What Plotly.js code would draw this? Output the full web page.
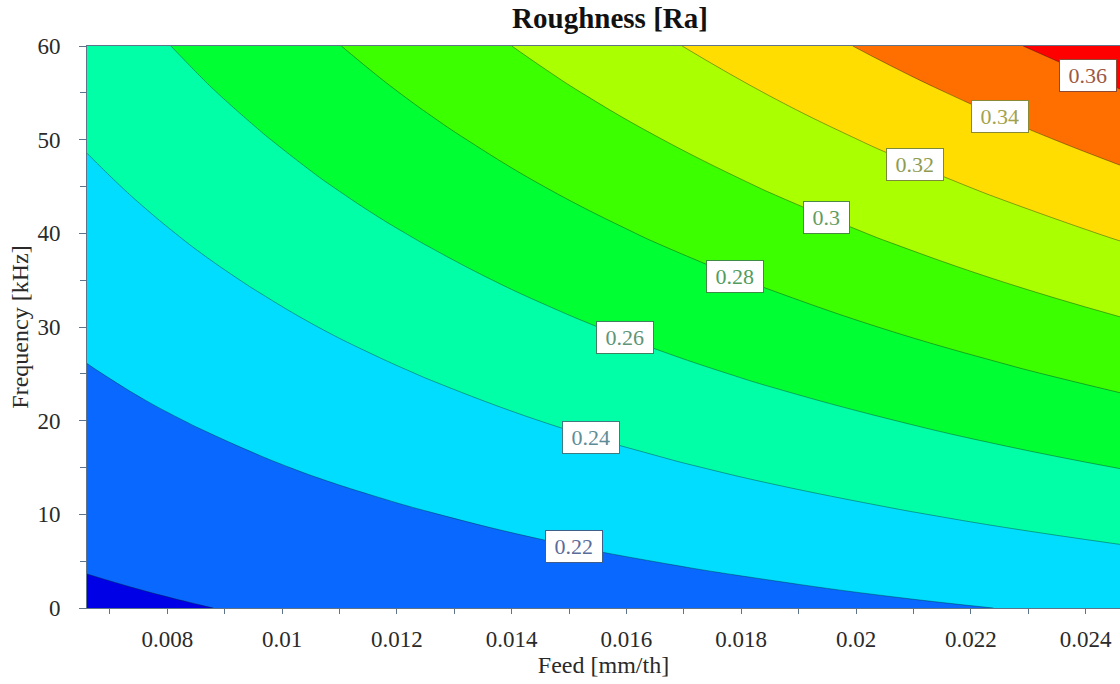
<!DOCTYPE html>
<html><head><meta charset="utf-8">
<script src="https://cdn.plot.ly/plotly-3.0.1.min.js"></script>
<style>html,body{margin:0;padding:0;background:#fff}#chart{width:1120px;height:684px}</style>
</head><body><div id="chart"></div>
<script>
// Feed [mm/th] grid (columns)
const feed = [0.0066, 0.0076, 0.0086, 0.0096, 0.0106, 0.0116, 0.0126, 0.0146, 0.0166, 0.0186, 0.0206, 0.0226, 0.0246];
// Frequency [kHz] grid (rows)
const frequency = [0, 5, 10, 15, 20, 25, 30, 35, 40, 45, 50, 55, 60];
// Roughness Ra estimated from the contour picture, one row per frequency
const roughness = [
  [0.1968,0.1982,0.1997,0.2012,0.2026,0.2041,0.2056,0.2085,0.2115,0.2144,0.2174,0.2203,0.2233],
  [0.2012,0.2031,0.2050,0.2069,0.2088,0.2108,0.2127,0.2165,0.2203,0.2241,0.2280,0.2318,0.2356],
  [0.2057,0.2080,0.2104,0.2127,0.2151,0.2174,0.2197,0.2244,0.2291,0.2338,0.2385,0.2432,0.2479],
  [0.2101,0.2129,0.2157,0.2185,0.2213,0.2240,0.2268,0.2324,0.2380,0.2436,0.2491,0.2547,0.2603],
  [0.2146,0.2178,0.2210,0.2242,0.2275,0.2307,0.2339,0.2404,0.2468,0.2533,0.2597,0.2662,0.2726],
  [0.2190,0.2227,0.2263,0.2300,0.2337,0.2373,0.2410,0.2483,0.2557,0.2630,0.2703,0.2776,0.2850],
  [0.2235,0.2276,0.2317,0.2358,0.2399,0.2440,0.2481,0.2563,0.2645,0.2727,0.2809,0.2891,0.2973],
  [0.2279,0.2324,0.2370,0.2415,0.2461,0.2506,0.2552,0.2642,0.2733,0.2824,0.2915,0.3006,0.3097],
  [0.2324,0.2373,0.2423,0.2473,0.2523,0.2573,0.2622,0.2722,0.2822,0.2921,0.3021,0.3120,0.3220],
  [0.2368,0.2422,0.2477,0.2531,0.2585,0.2639,0.2693,0.2802,0.2910,0.3018,0.3127,0.3235,0.3344],
  [0.2413,0.2471,0.2530,0.2588,0.2647,0.2705,0.2764,0.2881,0.2998,0.3116,0.3233,0.3350,0.3467],
  [0.2457,0.2520,0.2583,0.2646,0.2709,0.2772,0.2835,0.2961,0.3087,0.3213,0.3339,0.3464,0.3590],
  [0.2502,0.2569,0.2636,0.2704,0.2771,0.2838,0.2906,0.3040,0.3175,0.3310,0.3444,0.3579,0.3714]
];
// contour levels
const levelStart = 0.20, levelEnd = 0.36, levelStep = 0.02;
// band colours, from below 0.20 up to above 0.36
const bandColors = ['#0000e6','#0868ff','#00ddff','#00ffa6','#00ff33','#3cff00','#aaff00','#ffdd00','#ff6f00','#ff0000'];
// labelled levels and where (along feed) each label sits
const labelLevels = [0.22, 0.24, 0.26, 0.28, 0.30, 0.32, 0.34, 0.36];
const labelFeed = [0.01509, 0.01539, 0.01597, 0.01789, 0.01949, 0.02103, 0.02251, 0.02404];
const labelTextColors = ['#5a6c9c','#5e8c96','#609476','#529c5c','#629c62','#8e9c50','#a2a24c','#9c5844'];
const labelBorderColors = ['#3f5f8a','#3f7a80','#3f8060','#3f8a45','#4a8a45','#7a8a3a','#8a8a35','#8a4a35'];

function crossingFrequency(f, level) {
  let i = 0;
  while (i < feed.length - 2 && f > feed[i + 1]) i++;
  const t = (f - feed[i]) / (feed[i + 1] - feed[i]);
  const col = roughness.map(r => r[i] + t * (r[i + 1] - r[i]));
  for (let j = 0; j < col.length - 1; j++) {
    const a = col[j], b = col[j + 1];
    if ((a - level) * (b - level) <= 0 && a !== b) {
      return frequency[j] + (level - a) / (b - a) * (frequency[j + 1] - frequency[j]);
    }
  }
  return null;
}

const colorscale = bandColors.map((c, k) => [k / (bandColors.length - 1), c]);

const trace = {
  type: 'contour',
  x: feed, y: frequency, z: roughness,
  colorscale: colorscale,
  showscale: false,
  autocontour: false,
  contours: {start: levelStart, end: levelEnd, size: levelStep, coloring: 'fill', showlabels: false},
  line: {color: 'rgba(0,30,30,0.38)', width: 1, smoothing: 1.3},
  hoverinfo: 'x+y+z'
};

const serif = 'Liberation Serif, Times New Roman, serif';
const axisCol = '#5f7489';

const annotations = labelLevels.map((lv, k) => ({
  x: labelFeed[k], y: crossingFrequency(labelFeed[k], lv),
  xref: 'x', yref: 'y',
  text: '\u00a0' + String(+lv.toFixed(2)) + '\u00a0',
  showarrow: false,
  bgcolor: '#ffffff',
  bordercolor: labelBorderColors[k],
  borderwidth: 1,
  borderpad: 3,
  font: {family: serif, size: 22, color: labelTextColors[k]}
}));

const layout = {
  width: 1120, height: 684,
  margin: {l: 87, r: 0, t: 46, b: 76, pad: 0},
  paper_bgcolor: '#ffffff', plot_bgcolor: '#ffffff',
  title: {text: 'Roughness [Ra]', font: {family: serif, size: 29, color: '#111', weight: 'bold'},
          x: 610 / 1120, xanchor: 'center', xref: 'container', y: 1 - 18 / 684, yanchor: 'middle', yref: 'container'},
  xaxis: {
    range: [0.0066, 0.0246], tick0: 0, dtick: 0.002,
    ticks: 'outside', ticklen: 5, tickcolor: axisCol, tickwidth: 1,
    minor: {dtick: 0.001, ticks: 'outside', ticklen: 5, tickcolor: axisCol, showgrid: false},
    showline: true, linecolor: axisCol, linewidth: 1, mirror: true,
    showgrid: false, zeroline: false,
    tickfont: {family: serif, size: 23, color: '#2a2a2a'},
    ticklabelstandoff: 5,
    title: {text: 'Feed [mm/th]', font: {family: serif, size: 24, color: '#2a2a2a'}, standoff: 2}
  },
  yaxis: {
    range: [0, 60], tick0: 0, dtick: 10,
    ticks: 'outside', ticklen: 7, tickcolor: axisCol, tickwidth: 1,
    minor: {dtick: 5, ticks: 'outside', ticklen: 6, tickcolor: axisCol, showgrid: false},
    showline: true, linecolor: axisCol, linewidth: 1, mirror: true,
    showgrid: false, zeroline: false,
    tickfont: {family: serif, size: 23, color: '#2a2a2a'},
    ticklabelstandoff: 14,
    title: {text: 'Frequency [kHz]', font: {family: serif, size: 24, color: '#2a2a2a'}, standoff: 2}
  },
  annotations: annotations,
  showlegend: false
};

Plotly.newPlot('chart', [trace], layout, {displayModeBar: false, staticPlot: true});
</script>
</body></html>
